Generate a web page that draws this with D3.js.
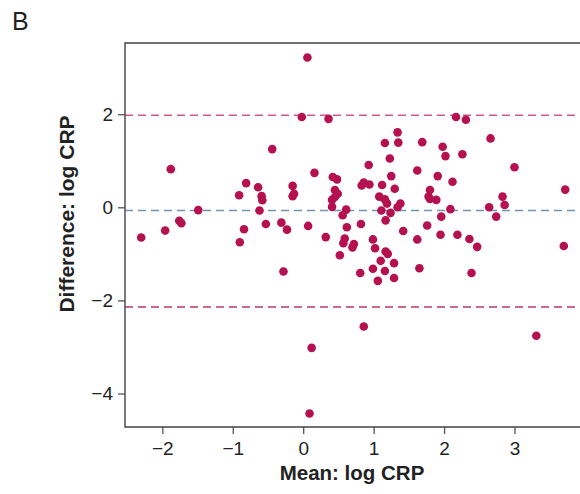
<!DOCTYPE html>
<html><head><meta charset="utf-8">
<script src="https://cdn.jsdelivr.net/npm/d3@7"></script>
<style>
body{margin:0;background:#fff;}
svg{display:block;font-family:"Liberation Sans",Arial,Helvetica,sans-serif;}
</style></head>
<body><svg id="c" width="580" height="494"></svg>
<script>
const meanLog = [0.06,-0.02,0.36,-0.44,-1.88,0.16,-0.81,-0.64,-0.91,-0.59,-0.58,-0.15,-0.15,-0.13,-1.49,-0.62,0.42,0.48,0.45,0.49,0.41,0.45,0.41,0.56,0.61,-1.76,-1.73,-1.96,-2.30,-0.53,-0.31,-0.23,0.07,-0.84,0.32,-0.90,-0.28,0.52,0.12,0.09,1.16,0.93,0.83,0.86,0.94,1.12,1.08,1.16,1.19,1.38,1.34,1.11,1.24,0.62,0.82,0.59,0.57,0.72,0.70,0.99,1.02,1.10,0.99,0.81,1.06,2.17,2.31,1.34,1.35,1.69,1.98,2.02,2.26,1.23,1.62,1.25,1.91,2.12,1.30,1.80,1.78,1.80,1.89,2.09,2.66,3.00,2.64,2.83,2.86,2.74,3.72,1.96,1.17,1.76,1.42,1.62,1.95,2.19,2.36,2.47,1.17,1.20,1.29,1.16,1.29,1.65,2.39,3.70,0.86,3.31];
const diffLog = [3.22,1.94,1.90,1.25,0.82,0.74,0.52,0.43,0.26,0.24,0.15,0.46,0.24,0.29,-0.06,-0.07,0.65,0.60,0.37,0.29,0.16,0.22,0.01,-0.17,-0.05,-0.29,-0.34,-0.50,-0.65,-0.36,-0.33,-0.48,-0.40,-0.47,-0.64,-0.75,-1.38,-1.03,-3.02,-4.43,1.38,0.91,0.47,0.53,0.49,0.48,0.23,0.17,0.08,0.08,0.00,-0.07,-0.12,-0.43,-0.36,-0.67,-0.77,-0.79,-0.86,-0.69,-0.88,-1.15,-1.32,-1.41,-1.58,1.94,1.88,1.61,1.39,1.40,1.30,1.10,1.14,1.05,0.79,0.67,0.67,0.55,0.40,0.37,0.23,0.18,0.16,-0.04,1.48,0.86,0.00,0.23,0.05,-0.20,0.38,-0.20,-0.28,-0.39,-0.51,-0.69,-0.59,-0.59,-0.68,-0.85,-0.95,-1.00,-1.20,-1.37,-1.52,-1.31,-1.41,-0.83,-2.56,-2.76];
const xTicks = [-2,-1,0,1,2,3];
const yTicks = [2,0,-2,-4];
const meanDiff = -0.07;
const upperLoA = 1.98;
const lowerLoA = -2.14;
const panelLabel = "B";
const xTitle = "Mean: log CRP";
const yTitle = "Difference: log CRP";

const svg = d3.select("#c");
const L = 125, R = 580, T = 43, B = 427;
const x = d3.scaleLinear().domain([-2.53, 3.93]).range([L, R]);
const y = d3.scaleLinear().domain([3.53, -4.72]).range([T, B]);
const fmt = d => d < 0 ? "\u2212" + Math.abs(d) : String(d);

// reference lines
const refs = [
  {v: upperLoA, c: "#cf5b88"},
  {v: meanDiff, c: "#6f95b3"},
  {v: lowerLoA, c: "#b83a66"}
];
svg.selectAll("line.ref").data(refs).enter().append("line")
  .attr("x1", L).attr("x2", R)
  .attr("y1", d => y(d.v)).attr("y2", d => y(d.v))
  .attr("stroke", d => d.c).attr("stroke-width", 1.5)
  .attr("stroke-dasharray", "8,5");

// points
const pts = meanLog.map((m, i) => ({m, d: diffLog[i]}));
svg.selectAll("circle").data(pts).enter().append("circle")
  .attr("cx", d => x(d.m)).attr("cy", d => y(d.d)).attr("r", 4.3)
  .attr("fill", "#b5104f");

// axes
const xAxis = svg.append("g").attr("transform", `translate(0,${B})`)
  .call(d3.axisBottom(x).tickValues(xTicks).tickFormat(fmt).tickSize(7).tickPadding(8));
const yAxis = svg.append("g").attr("transform", `translate(${L},0)`)
  .call(d3.axisLeft(y).tickValues(yTicks).tickFormat(fmt).tickSize(7).tickPadding(5));
[xAxis, yAxis].forEach(g => {
  g.select(".domain").remove();
  g.selectAll("line").attr("stroke", "#555").attr("stroke-width", 1.3);
  g.selectAll("text").attr("fill", "#222").style("font-size", "19px")
    .style("font-family", '"Liberation Sans",Arial,sans-serif');
});
// frame lines: left, bottom, top
svg.append("path")
  .attr("d", `M${R},${T}H${L}V${B}H${R}`)
  .attr("fill", "none").attr("stroke", "#444").attr("stroke-width", 1.4);

// titles
svg.append("text").attr("x", 352).attr("y", 480)
  .attr("text-anchor", "middle").attr("font-weight", "bold")
  .attr("font-size", 20.5).attr("fill", "#222").text(xTitle);
svg.append("text").attr("transform", "translate(74,214) rotate(-90)")
  .attr("text-anchor", "middle").attr("font-weight", "bold")
  .attr("font-size", 21).attr("fill", "#222").text(yTitle);
svg.append("text").attr("x", 12).attr("y", 30)
  .attr("font-size", 25).attr("fill", "#222").text(panelLabel);
</script></body></html>
